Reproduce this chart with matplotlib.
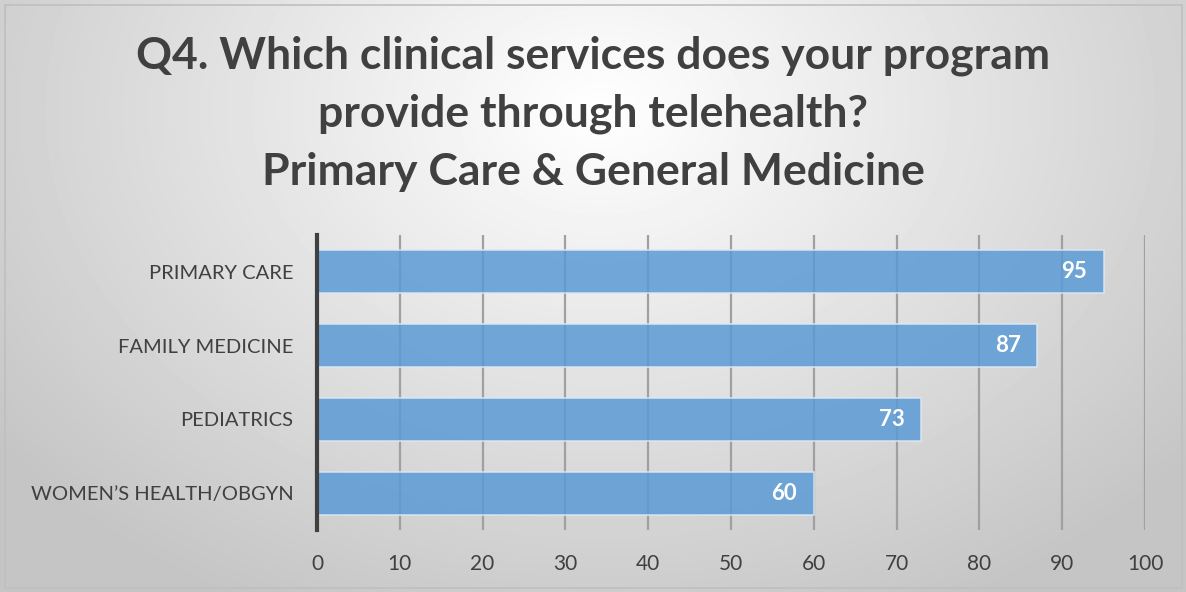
import numpy as np
import matplotlib
matplotlib.use("Agg")
import matplotlib.pyplot as plt
from matplotlib.patches import Rectangle

categories = ["PRIMARY CARE", "FAMILY MEDICINE", "PEDIATRICS", "WOMEN\u2019S HEALTH/OBGYN"]
values = [95, 87, 73, 60]
xticks = [0, 10, 20, 30, 40, 50, 60, 70, 80, 90, 100]
title = ("Q4. Which clinical services does your program\n"
         "provide through telehealth?\n"
         "Primary Care & General Medicine")

plt.rcParams["font.family"] = ["Lato", "DejaVu Sans"]
TXT = "#404040"

W, H = 1186, 592
fig = plt.figure(figsize=(W / 100, H / 100), dpi=100)

# radial gradient background (white at top centre, grey at edges)
bg = fig.add_axes([0, 0, 1, 1], zorder=-10)
yy, xx = np.mgrid[0:H, 0:W]
r = np.sqrt(((xx - 600) / 760) ** 2 + ((yy - 110) / 560) ** 2)
shade = np.clip(1.0 - 0.23 * r, 0.77, 1.0)
bg.imshow(shade, cmap="gray", vmin=0, vmax=1, aspect="auto",
          extent=[0, 1, 0, 1], interpolation="bilinear")
bg.set_xlim(0, 1)
bg.set_ylim(0, 1)
bg.axis("off")
fig.patches.append(Rectangle((5 / W, 4 / H), 1177 / W, 583 / H, transform=fig.transFigure,
                             fill=False, edgecolor="#bfbfbf", lw=1.2, zorder=5))

ax = fig.add_axes([317 / W, 1 - 530 / H, 828 / W, 295 / H])
ax.patch.set_alpha(0)
y = np.arange(len(categories))
bars = ax.barh(y, values, height=0.58, color="#5b9bd5", alpha=0.85,
               edgecolor="#dce9f5", linewidth=1.2, zorder=3)
for yi, v in zip(y, values):
    ax.text(v - 2.0, yi, str(v), ha="right", va="center", color="white",
            fontsize=16, fontweight="bold", zorder=4)

ax.set_xlim(0, 100)
ax.set_ylim(len(categories) - 0.5, -0.5)
ax.set_yticks(y)
ax.set_yticklabels(categories, fontsize=14.5, color=TXT)
ax.set_xticks(xticks)
ax.set_xticklabels([str(t) for t in xticks], fontsize=15, color=TXT)
ax.tick_params(axis="both", length=0)
ax.tick_params(axis="y", pad=17)
ax.tick_params(axis="x", pad=17)
ax.grid(axis="x", color="#a0a0a0", lw=1.6, zorder=1)
for s in ["top", "right", "bottom"]:
    ax.spines[s].set_visible(False)
ax.spines["left"].set_color("#404040")
ax.spines["left"].set_linewidth(3)
ax.spines["left"].set_zorder(5)

fig.text(0.5, 1 - 114 / H, title, ha="center", va="center", fontsize=32,
         fontweight="bold", color=TXT, linespacing=1.54)

fig.savefig("out.png", dpi=100)
